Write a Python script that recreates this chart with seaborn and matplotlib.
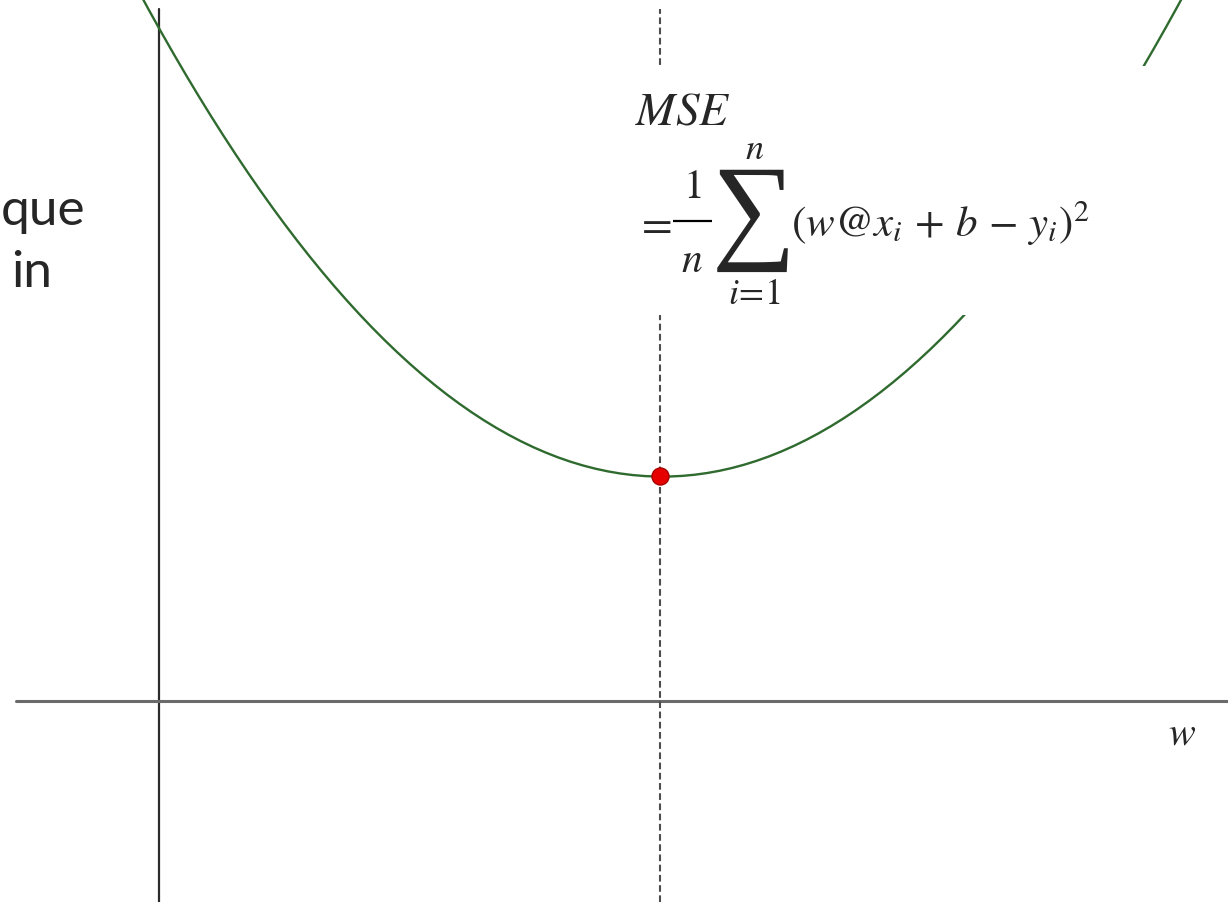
import matplotlib
matplotlib.use('Agg')
import matplotlib.pyplot as plt
import matplotlib.patches as patches
import seaborn as sns
import pandas as pd

# points (w, loss), origin at the axes crossing
w_read = [-0.12, 0.00, 0.59, 0.91, 1.94, 2.41, 3.41, 4.59, 5.01, 5.41, 6.41, 7.38, 8.06, 9.83, 10.17]
loss_read = [6.92, 6.72, 5.74, 5.27, 3.94, 3.47, 2.74, 2.29, 2.25, 2.29, 2.49, 3.22, 3.87, 6.34, 6.92]
w_min = 5.01
loss_min = 2.25

formula_head = r'$MSE$'
formula_eq = r'$=$'
frac_num = r'$1$'
frac_den = r'$n$'
sum_sign = '\u2211'
sum_top = r'$n$'
sum_bottom = r'$i\!=\!1$'
formula_body = r'$(w@x_i\,+\,b\,-\,y_i)^2$'
left_lines = ['que', 'in']
axis_label = r'$w$'

XLIM = (-1.59, 10.69)
YLIM = (-2.01, 7.02)

sns.set_style('white')
plt.rcParams['mathtext.fontset'] = 'stix'

df = pd.DataFrame({'w': w_read, 'loss': loss_read})

fig = plt.figure(figsize=(12.28, 9.03), dpi=100)
ax = fig.add_axes([0, 0, 1, 1])
ax.set_xlim(*XLIM)
ax.set_ylim(*YLIM)
ax.axis('off')

# quadratic fitted through the read points
sns.regplot(data=df, x='w', y='loss', order=2, ci=None, scatter=False, truncate=False,
            line_kws={'color': '#2f6a2f', 'lw': 1.7, 'zorder': 2}, ax=ax)
ax.set_xlim(*XLIM)
ax.set_ylim(*YLIM)

# axes through the origin
ax.axvline(0, ymin=0, ymax=0.989, color='#2b2b2b', lw=1.6, zorder=1)
ax.axhline(0, xmin=0.013, xmax=1, color='#6a6a6a', lw=2.2, zorder=1)

# minimum: dashed guide and red dot
ax.axvline(w_min, ymin=0, ymax=0.989, color='#4d4d4d', lw=1.5, ls=(0, (3.2, 1.7)), zorder=1)
sns.scatterplot(x=[w_min], y=[loss_min], color='#e60000', edgecolor='#a80000', s=150,
                linewidth=1, zorder=5, ax=ax, legend=False)

# white box behind the formula
ax.add_patch(patches.Rectangle((605 / 1228, 1 - 316 / 903), (1160 - 605) / 1228, (316 - 67) / 903,
                               transform=ax.transAxes, facecolor='white', edgecolor='none', zorder=3))

ax.text(4.76, 5.77, formula_head, fontsize=34, ha='left', va='baseline', zorder=4)
ax.text(4.76, 4.78, formula_eq, fontsize=32, ha='left', va='center', zorder=4)
ax.text(5.33, 5.04, frac_num, fontsize=30, ha='center', va='baseline', zorder=4)
ax.plot([5.14, 5.53], [4.80, 4.80], color='black', lw=1.6, solid_capstyle='butt', zorder=4)
ax.text(5.33, 4.30, frac_den, fontsize=30, ha='center', va='baseline', zorder=4)
ax.text(5.95, 4.84, sum_sign, fontsize=85, family=['Liberation Serif', 'DejaVu Serif'],
        ha='center', va='center', zorder=4)
ax.text(5.96, 5.43, sum_top, fontsize=26, ha='center', va='baseline', zorder=4)
ax.text(5.95, 3.98, sum_bottom, fontsize=26, ha='center', va='baseline', zorder=4)
ax.text(6.32, 4.65, formula_body, fontsize=31, ha='left', va='baseline', zorder=4)

ax.text(10.09, -0.43, axis_label, fontsize=29, ha='left', va='baseline')

ax.text(-1.58, 4.77, left_lines[0], fontsize=37, family='Lato', ha='left', va='baseline')
ax.text(-1.48, 4.15, left_lines[1], fontsize=37, family='Lato', ha='left', va='baseline')

fig.savefig('out.png', dpi=100)
